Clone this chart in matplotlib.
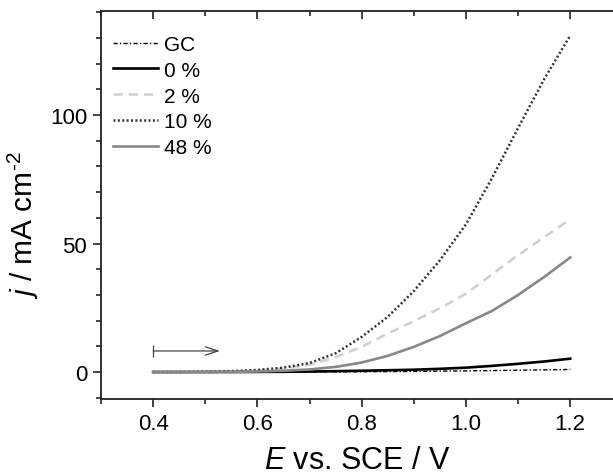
import numpy as np
import matplotlib
matplotlib.use('Agg')
import matplotlib.pyplot as plt
from matplotlib.ticker import MultipleLocator

plt.rcParams['font.family'] = ['Liberation Sans', 'DejaVu Sans']
plt.rcParams['mathtext.fontset'] = 'custom'
plt.rcParams['mathtext.rm'] = 'Liberation Sans'
plt.rcParams['mathtext.it'] = 'Liberation Sans:italic'

# Potential (V vs. SCE) and current density (mA cm-2)
E = [0.40, 0.45, 0.50, 0.55, 0.60, 0.65, 0.70, 0.75, 0.80, 0.85, 0.90, 0.95, 1.00, 1.05, 1.10, 1.15, 1.20]
j_gc = [0.0, 0.0, 0.0, 0.0, 0.0, 0.02, 0.04, 0.07, 0.1, 0.17, 0.25, 0.35, 0.45, 0.57, 0.7, 0.85, 1.0]
j_0 = [0.0, 0.0, 0.0, 0.02, 0.05, 0.1, 0.2, 0.33, 0.5, 0.7, 0.9, 1.25, 1.7, 2.4, 3.2, 4.1, 5.2]
j_2 = [0.0, 0.03, 0.1, 0.25, 0.6, 1.3, 2.8, 5.8, 9.8, 15.0, 19.8, 24.8, 30.5, 38.0, 45.5, 52.5, 59.5]
j_10 = [0.0, 0.05, 0.15, 0.35, 0.8, 1.7, 3.5, 7.3, 13.7, 21.5, 31.5, 43.5, 57.5, 75.5, 95.0, 114.0, 131.0]
j_48 = [0.0, 0.0, 0.03, 0.08, 0.2, 0.5, 1.0, 2.0, 3.7, 6.3, 9.8, 14.0, 19.0, 23.8, 30.0, 37.0, 44.6]

labels = ['GC', '0 %', '2 %', '10 %', '48 %']

# scan direction arrow
scan_start = 0.40
scan_end = 0.528
scan_j = 8.2

fig = plt.figure(figsize=(6.13, 4.77), dpi=100)
ax = fig.add_axes([0.1648, 0.1614, 0.8352, 0.8134])

ax.plot(E, j_gc, color='black', lw=1.0, dashes=(3, 1.6, 1, 1.6), label=labels[0])
ax.plot(E, j_0, color='black', lw=1.9, label=labels[1])
ax.plot(E, j_2, color='#cfcfcf', lw=1.8, dashes=(3.7, 2.4), label=labels[2])
ax.plot(E, j_10, color='#333333', lw=1.8, dashes=(0.8, 0.95), label=labels[3])
ax.plot(E, j_48, color='#888888', lw=1.9, label=labels[4])

ax.annotate('', xy=(scan_end, scan_j), xytext=(scan_start, scan_j),
            arrowprops=dict(arrowstyle='->,head_length=0.9,head_width=0.3',
                            color='#444444', lw=0.9, shrinkA=0, shrinkB=0))
ax.plot([scan_start], [scan_j], marker='|', ms=8, mew=0.9, color='#444444')

ax.set_xlim(0.3, 1.282)
ax.set_ylim(-10.5, 140.5)
ax.xaxis.set_major_locator(MultipleLocator(0.2))
ax.xaxis.set_minor_locator(MultipleLocator(0.1))
ax.yaxis.set_major_locator(MultipleLocator(50))
ax.yaxis.set_minor_locator(MultipleLocator(10))
ax.set_xticks([0.4, 0.6, 0.8, 1.0, 1.2])
ax.set_xticklabels(['0.4', '0.6', '0.8', '1.0', '1.2'])

ax.spines['right'].set_visible(False)
for s in ['left', 'bottom', 'top']:
    ax.spines[s].set_linewidth(1.3)
    ax.spines[s].set_color('#222222')

ax.tick_params(axis='both', which='major', direction='out', length=6, width=1.2,
               labelsize=16, color='#222222', pad=4)
ax.tick_params(axis='both', which='minor', direction='out', length=3.5, width=1.2, color='#222222')
ax.tick_params(axis='x', which='both', top=True)
ax.tick_params(axis='y', which='both', right=False)
# top ticks point into the plot
for t in ax.xaxis.get_major_ticks() + ax.xaxis.get_minor_ticks():
    t.tick2line.set_marker(3)

ax.set_xlabel(r'$E$ vs. SCE / V', fontsize=22, labelpad=8)
ax.set_ylabel(r'$j$ / mA cm$^{\text{-}2}$', fontsize=21.5)
ax.yaxis.set_label_coords(-0.117, 0.45)

ax.legend(loc='upper left', frameon=False, fontsize=15, handlelength=2.16,
          handletextpad=0.29, labelspacing=0.33, borderaxespad=0, borderpad=0.4,
          bbox_to_anchor=(0.007, 0.96))

fig.savefig('out.png', dpi=100)
